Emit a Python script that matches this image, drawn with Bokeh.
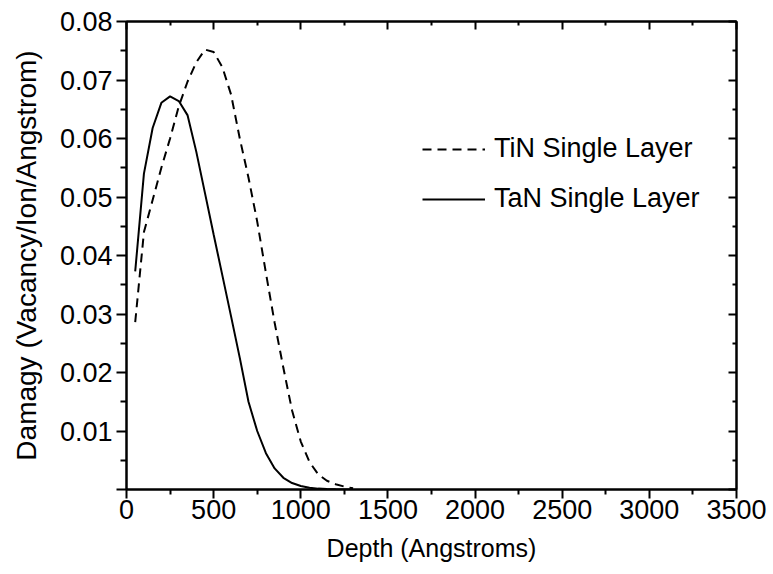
from bokeh.plotting import figure
from bokeh.models import FixedTicker, LinearAxis, Legend, LegendItem, Range1d, CustomJSTickFormatter
from bokeh.embed import file_html
from bokeh.resources import INLINE

# ---- data ----
depth = [50, 100, 150, 200, 250, 300, 350, 400, 450, 500, 550, 600, 650,
         700, 750, 800, 850, 900, 950, 1000, 1050, 1100, 1150, 1200, 1250, 1300]
tin_damage = [0.0286, 0.0440, 0.0495, 0.0550, 0.0600, 0.0655, 0.0697, 0.0730,
              0.0752, 0.0748, 0.0722, 0.0675, 0.0600, 0.0533, 0.0458, 0.0370,
              0.0285, 0.0208, 0.0135, 0.0082, 0.0047, 0.0026, 0.0015, 0.0009,
              0.0005, 0.0002]
tan_damage = [0.0373, 0.0540, 0.0618, 0.0661, 0.0672, 0.0664, 0.0640, 0.0578,
              0.0507, 0.0436, 0.0366, 0.0296, 0.0225, 0.0150, 0.0100, 0.0062,
              0.0036, 0.0020, 0.0011, 0.0006, 0.0003, 0.00015, 0.00007, 0.00003,
              0.00001, 0.0]
series_names = ["TiN Single Layer", "TaN Single Layer"]

x_ticks = [0, 500, 1000, 1500, 2000, 2500, 3000, 3500]
x_minor = [250, 750, 1250, 1750, 2250, 2750, 3250]
y_ticks = [0.0, 0.01, 0.02, 0.03, 0.04, 0.05, 0.06, 0.07, 0.08]
y_tick_labels = ["", "0.01", "0.02", "0.03", "0.04", "0.05", "0.06", "0.07", "0.08"]
y_minor = [0.005, 0.015, 0.025, 0.035, 0.045, 0.055, 0.065, 0.075]

FONT = "Liberation Sans"
FS_TICK = "27px"

p = figure(width=773, height=574, output_backend="svg", toolbar_location=None,
           x_range=Range1d(0, 3500), y_range=Range1d(0, 0.08),
           min_border_left=126, min_border_right=37, min_border_top=21, min_border_bottom=85)
p.background_fill_color = "white"
p.border_fill_color = "white"
p.grid.visible = False
p.outline_line_color = "black"
p.outline_line_width = 2

r_tin = p.line(depth, tin_damage, line_color="black", line_width=2, line_dash="9 6")
r_tan = p.line(depth, tan_damage, line_color="black", line_width=2)

def style(ax, title_size="26px"):
    ax.axis_line_width = 2
    ax.axis_line_color = "black"
    ax.major_tick_line_color = "black"
    ax.minor_tick_line_color = "black"
    ax.major_tick_line_width = 2
    ax.minor_tick_line_width = 2
    ax.major_label_text_font = FONT
    ax.major_label_text_font_size = FS_TICK
    ax.major_label_text_color = "black"
    ax.axis_label_text_font = FONT
    ax.axis_label_text_font_size = title_size
    ax.axis_label_text_font_style = "normal"
    ax.axis_label_text_color = "black"

xa = p.xaxis[0]
xa.ticker = FixedTicker(ticks=x_ticks, minor_ticks=x_minor)
xa.axis_label = "Depth (Angstroms)"
style(xa, "25px")
xa.major_tick_out = 9
xa.major_tick_in = 0
xa.minor_tick_out = 5
xa.minor_tick_in = 0
xa.major_label_standoff = 1
xa.axis_label_standoff = 12

ya = p.yaxis[0]
ya.ticker = FixedTicker(ticks=y_ticks, minor_ticks=y_minor)
ya.major_label_overrides = {t: l for t, l in zip(y_ticks, y_tick_labels)}
ya.axis_label = "Damagy (Vacancy/Ion/Angstrom)"
style(ya, "28px")
ya.major_tick_out = 10
ya.major_tick_in = 0
ya.minor_tick_out = 6
ya.minor_tick_in = 0
ya.major_label_standoff = 4
ya.axis_label_standoff = 15

blank = CustomJSTickFormatter(code="return '';")
top = LinearAxis(ticker=FixedTicker(ticks=x_ticks, minor_ticks=x_minor), formatter=blank)
style(top)
top.major_tick_in = 8
top.major_tick_out = 0
top.minor_tick_in = 4
top.minor_tick_out = 0
top.major_label_standoff = 0
top.major_label_text_font_size = "0px"
p.add_layout(top, "above")

right = LinearAxis(ticker=FixedTicker(ticks=y_ticks, minor_ticks=y_minor), formatter=blank)
style(right)
right.major_tick_in = 8
right.major_tick_out = 0
right.minor_tick_in = 4
right.minor_tick_out = 0
right.major_label_standoff = 0
right.major_label_text_font_size = "0px"
p.add_layout(right, "right")

legend = Legend(items=[LegendItem(label=series_names[0], renderers=[r_tin]),
                       LegendItem(label=series_names[1], renderers=[r_tan])],
                location=(296, 275))
legend.border_line_color = None
legend.background_fill_alpha = 0
legend.padding = 0
legend.margin = 0
legend.spacing = 19
legend.glyph_width = 63
legend.glyph_height = 20
legend.label_height = 20
legend.label_standoff = 9
legend.label_text_font = FONT
legend.label_text_font_size = FS_TICK
legend.label_text_color = "black"
p.add_layout(legend)

open("out.html", "w").write(file_html(p, INLINE))
